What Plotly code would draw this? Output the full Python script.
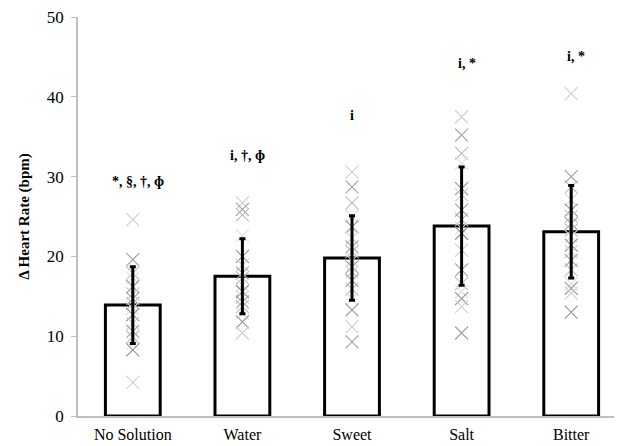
import plotly.graph_objects as go

categories = ["No Solution", "Water", "Sweet", "Salt", "Bitter"]
means = [13.9, 17.5, 19.8, 23.8, 23.1]
sds = [4.8, 4.7, 5.3, 7.4, 5.8]

points_no_solution = [24.6, 19.6, 17.9, 17.3, 16.2, 15.3, 14.7, 14.1, 13.5, 12.7, 11.6, 10.6, 9.9, 9.1, 8.3, 4.2]
points_water = [26.7, 25.9, 25.2, 22.6, 20.0, 18.9, 17.9, 17.3, 16.4, 15.6, 14.9, 14.3, 13.7, 12.9, 11.8, 10.4]
points_sweet = [30.6, 28.7, 26.7, 25.0, 23.7, 22.3, 21.2, 20.6, 19.5, 18.7, 18.1, 17.0, 15.9, 14.7, 13.3, 11.2, 9.3]
points_salt = [37.5, 35.2, 32.9, 31.7, 28.5, 27.7, 25.8, 24.6, 23.5, 22.9, 20.8, 18.3, 16.6, 15.6, 14.7, 13.7, 10.4]
points_bitter = [40.4, 30.0, 28.7, 27.1, 25.8, 25.0, 24.1, 23.3, 22.5, 21.4, 20.6, 19.5, 18.3, 16.6, 16.0, 15.4, 13.0]

sig_labels = ["*, §, †, ɸ", "i, †, ɸ", "i", "i, *", "i, *"]
label_y = [29.4, 32.7, 37.7, 44.2, 45.0]

all_points = [points_no_solution, points_water, points_sweet, points_salt, points_bitter]
grays = ["#cfcfcf", "#a0a0a0", "#bcbcbc", "#dedede", "#939393"]
SERIF = "Liberation Serif"

fig = go.Figure()

fig.add_trace(go.Bar(
    x=categories, y=means, width=0.5,
    marker=dict(color="white", line=dict(color="black", width=3)),
    showlegend=False, hoverinfo="skip",
))

for cat, pts in zip(categories, all_points):
    cols = [grays[i % len(grays)] for i in range(len(pts))]
    fig.add_trace(go.Scatter(
        x=[cat] * len(pts), y=pts, mode="markers",
        marker=dict(symbol="x-thin-open", size=13, color=cols,
                    line=dict(width=1.1, color=cols)),
        showlegend=False, hoverinfo="skip",
    ))

fig.add_trace(go.Scatter(
    x=categories, y=means, mode="markers",
    marker=dict(size=1, color="rgba(0,0,0,0)"),
    error_y=dict(type="data", array=sds, visible=True, color="black", thickness=3, width=3),
    showlegend=False, hoverinfo="skip",
))

for cat, lab, ly in zip(categories, sig_labels, label_y):
    fig.add_annotation(x=cat, y=ly, text="<b>" + lab + "</b>", showarrow=False,
                       xshift=5 if "," in lab else 0,
                       font=dict(family=SERIF, size=14, color="black"))

fig.update_layout(
    width=622, height=446,
    margin=dict(l=70, r=4, t=9, b=38, autoexpand=False),
    plot_bgcolor="white", paper_bgcolor="white",
    font=dict(family=SERIF, size=16, color="black"),
    xaxis=dict(type="category", range=[-0.5, 4.5], showline=True, linecolor="#bfbfbf",
               linewidth=1.5, ticks="", showgrid=False, automargin=False,
               ticklabeloverflow="allow", ticklabelstandoff=3,
               tickfont=dict(family=SERIF, size=16, color="black")),
    yaxis=dict(range=[0, 50], dtick=10, showline=True, linecolor="#bfbfbf", linewidth=1.5,
               ticks="outside", ticklen=5, tickcolor="#bfbfbf", showgrid=False, zeroline=False,
               automargin=False, ticklabeloverflow="allow", ticklabelstandoff=4,
               tickfont=dict(family=SERIF, size=17, color="black"),
               title=dict(text="<b>Δ Heart Rate (bpm)</b>", standoff=14,
                          font=dict(family=SERIF, size=15, color="black"))),
)

fig.write_html("out.html")
